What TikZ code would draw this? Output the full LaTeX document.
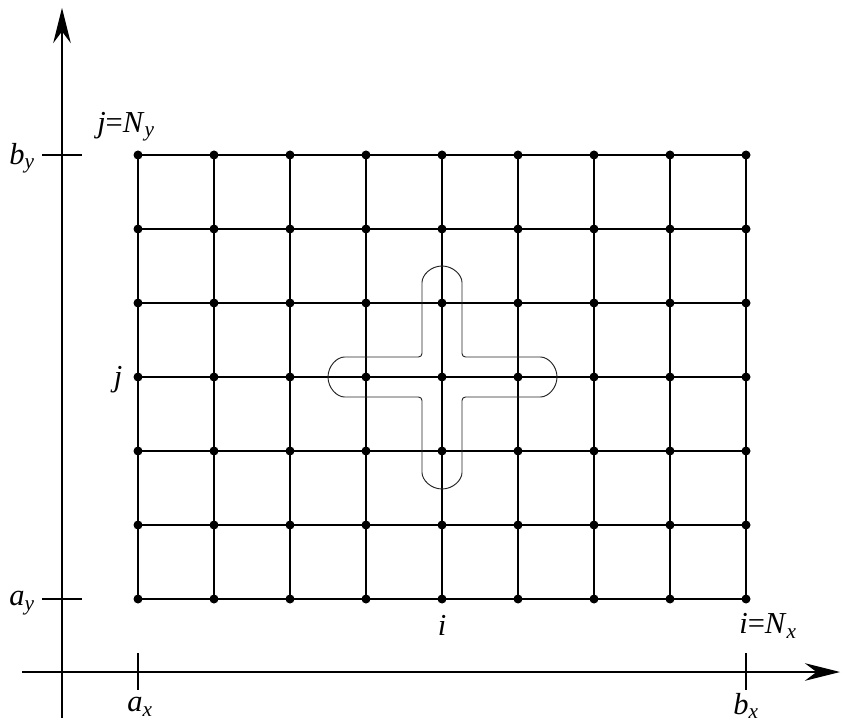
\documentclass[tikz,border=0pt]{standalone}
\usepackage{fontspec}
\setmainfont{Liberation Serif}
\usepackage{tikz}
\usetikzlibrary{arrows.meta,calc}
\newcommand{\vsub}[2]{\textit{#1}\textsubscript{\textit{#2}}}
\tikzset{
  axis/.style     = {line width=1.1pt, -{Stealth[length=30pt,width=15pt,inset=10pt]}},
  tickmark/.style = {line width=1.1pt},
  gridline/.style = {line width=1.1pt},
  dot/.style      = {fill=black},
  cross/.style    = {line width=0.8pt, draw=black!85, rounded corners=3pt},
  lab/.style      = {font=\fontsize{26}{30}\selectfont, inner sep=1pt},
}
\begin{document}
\begin{tikzpicture}[x=0.03cm, y=0.03cm]
  \useasboundingbox (0,0) rectangle (850,724);

  % ---------------- axes ----------------
  \coordinate (ox0) at (22,52);
  \coordinate (ox1) at (840,52);
  \coordinate (oy0) at (62,6);
  \coordinate (oy1) at (62,716);
  \draw[axis] (ox0) -- (ox1);
  \draw[axis] (oy0) -- (oy1);

  % ---------------- grid points ----------------
  \foreach \i in {0,...,8}
    \foreach \j in {0,...,6}
      \coordinate (p-\i-\j) at ({138+76*\i},{125+74*\j});

  \foreach \i in {0,...,8}
    \draw[gridline] (p-\i-0) -- (p-\i-6);
  \foreach \j in {0,...,6}
    \draw[gridline] (p-0-\j) -- (p-8-\j);
  \foreach \i in {0,...,8}
    \foreach \j in {0,...,6}
      \fill[dot] (p-\i-\j) circle (4.5);

  % ticks on the axes
  \draw[tickmark] ($(p-0-0 |- ox0)+(0,19)$) -- ++(0,-37);
  \draw[tickmark] ($(p-8-0 |- ox0)+(0,19)$) -- ++(0,-37);
  \draw[tickmark] ($(oy0 |- p-0-0)+(-20,0)$) -- ++(40,0);
  \draw[tickmark] ($(oy0 |- p-0-6)+(-20,0)$) -- ++(40,0);

  % ---------------- labels ----------------
  \node[lab] (ax) at (140,17) {\vsub{a}{x}};
  \node[lab] (bx) at (746,18) {\vsub{b}{x}};
  \node[lab] (ay) at (22,121) {\vsub{a}{y}};
  \node[lab] (by) at (22,566) {\vsub{b}{y}};
  \node[lab] (jN) at (126,597) {\textit{j}=\vsub{N}{y}};
  \node[lab] (iN) at (768,98) {\textit{i}=\vsub{N}{x}};
  \node[lab] (il) at (442,99) {\textit{i}};
  \node[lab] (jl) at (118,344) {\textit{j}};

  % ---------------- cross around (i,j) ----------------
  \coordinate (c) at (p-4-3);
  \draw[cross] ($(c)+(20,20)$) -- ++(75,0) arc[start angle=90, end angle=-90, radius=20]
    -- ++(-75,0) -- ++(0,-72) arc[start angle=0, end angle=-180, radius=20]
    -- ++(0,72) -- ++(-74,0) arc[start angle=270, end angle=90, radius=20]
    -- ++(74,0) -- ++(0,71) arc[start angle=180, end angle=0, radius=20] -- cycle;
\end{tikzpicture}
\end{document}
